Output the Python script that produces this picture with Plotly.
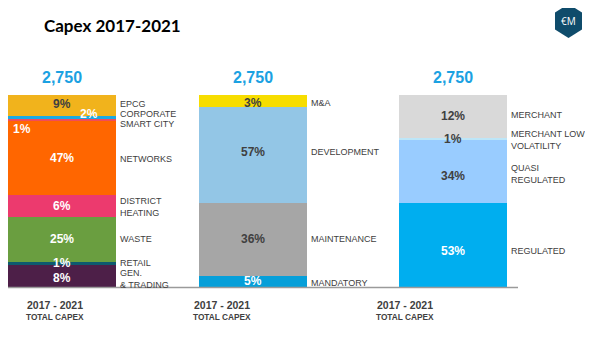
import plotly.graph_objects as go

# the page body has an 8px margin, so the figure is drawn 8px in from the window edge
OFF = 8
W, H = 593 - OFF, 361 - OFF

# ---------------- data ----------------
title_text = "Capex 2017-2021"
bar_totals = ["2,750", "2,750", "2,750"]
period_label = "2017 - 2021"
total_label = "TOTAL CAPEX"

# Bar 1 - by business (bottom to top)
b1_names = ["GEN.<br>& TRADING", "RETAIL", "WASTE", "DISTRICT<br>HEATING", "NETWORKS",
            "SMART CITY", "CORPORATE", "EPCG"]
b1_pct = ["8%", "1%", "25%", "6%", "47%", "1%", "2%", "9%"]
b1_height = [11.5, 1.7, 23.4, 11.3, 38.5, 1.2, 1.6, 10.8]

# Bar 2 - by nature (bottom to top)
b2_names = ["MANDATORY", "MAINTENANCE", "DEVELOPMENT", "M&A"]
b2_pct = ["5%", "36%", "57%", "3%"]
b2_height = [5.8, 38.0, 50.0, 6.2]

# Bar 3 - by risk profile (bottom to top)
b3_names = ["REGULATED", "QUASI<br>REGULATED", "MERCHANT LOW<br>VOLATILITY", "MERCHANT"]
b3_pct = ["53%", "34%", "1%", "12%"]
b3_height = [43.8, 32.9, 1.1, 22.2]

# ---------------- styles ----------------
b1_colors = ["#4D1F48", "#0E5A6E", "#6A9E40", "#EC3A6E", "#FF6600", "#EF4C5C", "#1CA9E1", "#F1B31C"]
b2_colors = ["#069FD9", "#A6A6A6", "#93C6E6", "#F7DD00"]
b3_colors = ["#00AEEF", "#99CCFF", "#BDE6F8", "#D9D9D9"]

DARK = "#404040"
WHITE = "#FFFFFF"
b1_txtcol = [WHITE, WHITE, WHITE, WHITE, WHITE, WHITE, WHITE, DARK]
b2_txtcol = [WHITE, DARK, DARK, DARK]
b3_txtcol = [WHITE, DARK, DARK, DARK]

# label nudges (pixels): (pct_xshift, pct_yshift, name_yshift)
b1_nudge = [(0, -2, -3), (0, 0, 0), (0, 0, 0), (0, 0, -1), (0, 0, -1),
            (-40, -9, -4), (27, 3, 3), (0, 1, 1)]
b2_nudge = [(0, 0, -1.5), (0, 0, 0), (0, 3, 3), (0, -2, -2)]
b3_nudge = [(0, -6, -6), (0, -5, -3), (0, 0, -1), (0, 0, 1)]

bars = [
    (b1_names, b1_pct, b1_height, b1_colors, b1_txtcol, b1_nudge),
    (b2_names, b2_pct, b2_height, b2_colors, b2_txtcol, b2_nudge),
    (b3_names, b3_pct, b3_height, b3_colors, b3_txtcol, b3_nudge),
]

# pixel helpers (window pixels -> paper fraction; figure has zero margins)
def px(x):
    return (x - OFF) / W

def py(y):
    return 1 - (y - OFF) / H

bar_px = [(8, 116), (199, 307), (399, 507)]
bottom_text_cx = [54.5, 222.5, 404.5]
FONT = "Liberation Sans, Arial, sans-serif"

fig = go.Figure()
annotations = []

for i, (names, pcts, heights, colors, tcols, nudges) in enumerate(bars):
    xa = "x" if i == 0 else f"x{i+1}"
    cum = 0.0
    for name, pct, h, col, tc, nd in zip(names, pcts, heights, colors, tcols, nudges):
        fig.add_trace(go.Bar(
            x=[0], y=[h], xaxis=xa, yaxis="y", width=1.0,
            marker=dict(color=col, line=dict(width=0)),
            name=name.replace("<br>", " "), showlegend=False, hoverinfo="skip",
        ))
        mid = cum + h / 2
        cum += h
        annotations.append(dict(
            x=0, y=mid, xref=xa, yref="y", text=f"<b>{pct}</b>", showarrow=False,
            font=dict(family=FONT, size=12, color=tc),
            xshift=nd[0], yshift=nd[1], xanchor="center", yanchor="middle",
        ))
        annotations.append(dict(
            x=0.5, y=mid, xref=xa, yref="y", text=name, showarrow=False,
            font=dict(family=FONT, size=9, color=DARK),
            xshift=2, yshift=nd[2], xanchor="left", yanchor="middle", align="left",
        ))
    # total above bar
    annotations.append(dict(
        x=0, y=py(77), xref=xa, yref="paper", text=f"<b>{bar_totals[i]}</b>", showarrow=False,
        font=dict(family=FONT, size=16, color="#1BA1E2"), xanchor="center", yanchor="middle",
    ))
    # bottom labels
    annotations.append(dict(
        x=px(bottom_text_cx[i]), y=py(305), xref="paper", yref="paper",
        text=f"<b>{period_label}</b>", showarrow=False,
        font=dict(family=FONT, size=10.5, color=DARK), xanchor="center", yanchor="middle",
    ))
    annotations.append(dict(
        x=px(bottom_text_cx[i]), y=py(317), xref="paper", yref="paper",
        text=f"<b>{total_label}</b>", showarrow=False,
        font=dict(family=FONT, size=8.3, color=DARK), xanchor="center", yanchor="middle",
    ))

# title
annotations.append(dict(
    x=px(42), y=py(25.5), xref="paper", yref="paper", text=f"<b>{title_text}</b>",
    showarrow=False, font=dict(family="Lato, Carlito, sans-serif", size=17, color="#000000"),
    xanchor="left", yanchor="middle",
))
# logo text
annotations.append(dict(
    x=px(568.5), y=py(21), xref="paper", yref="paper", text="€M",
    showarrow=False, font=dict(family="Open Sans, sans-serif", size=10, color="#FFFFFF"),
    xanchor="center", yanchor="middle",
))

hexagon = [(568.5, 4), (582, 12.5), (582, 29.5), (568.5, 38), (555, 29.5), (555, 12.5)]
hex_path = "M " + " L ".join(f"{px(x):.5f},{py(y):.5f}" for x, y in hexagon) + " Z"

shapes = [
    dict(type="path", path=hex_path, xref="paper", yref="paper",
         fillcolor="#0F4C6B", line=dict(width=0), layer="above"),
    dict(type="line", xref="paper", yref="paper", x0=px(8), x1=px(518), y0=py(287.5), y1=py(287.5),
         line=dict(color="#9A9A9A", width=1.5), layer="above"),
]

axis_common = dict(visible=False, range=[-0.5, 0.5], fixedrange=True)
fig.update_layout(
    width=W, height=H,
    margin=dict(l=0, r=0, t=0, b=0),
    paper_bgcolor="#FFFFFF", plot_bgcolor="rgba(0,0,0,0)",
    barmode="stack", bargap=0,
    xaxis=dict(domain=[px(bar_px[0][0]), px(bar_px[0][1])], anchor="y", **axis_common),
    xaxis2=dict(domain=[px(bar_px[1][0]), px(bar_px[1][1])], anchor="y", **axis_common),
    xaxis3=dict(domain=[px(bar_px[2][0]), px(bar_px[2][1])], anchor="y", **axis_common),
    yaxis=dict(domain=[py(287), py(95)], range=[0, 100], visible=False, fixedrange=True),
    annotations=annotations,
    shapes=shapes,
    showlegend=False,
)

fig.write_html("out.html")
